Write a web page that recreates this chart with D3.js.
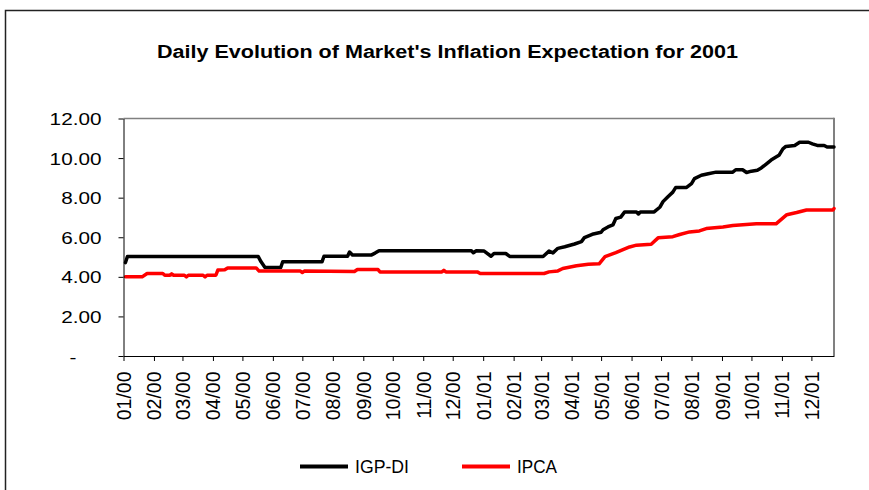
<!DOCTYPE html>
<html><head><meta charset="utf-8">
<script src="https://cdn.jsdelivr.net/npm/d3@7"></script>
<style>
html,body{margin:0;padding:0;background:#fff;}
svg{display:block;font-family:"Liberation Sans",Arial,sans-serif;}
</style></head>
<body><svg id="c" width="869" height="490"></svg>
<script>
const title = "Daily Evolution of Market's Inflation Expectation for 2001";
const seriesNames = ["IGP-DI", "IPCA"];
const yTicks = [0, 2, 4, 6, 8, 10, 12];

const igpDates = ["2000-01-03","2000-01-05","2000-05-17","2000-05-20","2000-05-24","2000-06-09","2000-06-11","2000-07-21","2000-07-23","2000-08-16","2000-08-18","2000-08-21","2000-09-09","2000-09-13","2000-09-17","2000-12-20","2000-12-22","2000-12-25","2001-01-02","2001-01-09","2001-01-12","2001-01-24","2001-01-28","2001-03-03","2001-03-09","2001-03-13","2001-03-18","2001-03-25","2001-04-04","2001-04-11","2001-04-14","2001-04-22","2001-05-01","2001-05-03","2001-05-08","2001-05-13","2001-05-16","2001-05-21","2001-05-25","2001-06-06","2001-06-08","2001-06-10","2001-06-24","2001-06-30","2001-07-03","2001-07-08","2001-07-13","2001-07-16","2001-07-27","2001-08-01","2001-08-04","2001-08-11","2001-08-18","2001-08-26","2001-09-12","2001-09-15","2001-09-22","2001-09-26","2001-10-01","2001-10-07","2001-10-11","2001-10-16","2001-10-21","2001-10-26","2001-10-29","2001-11-02","2001-11-05","2001-11-14","2001-11-19","2001-11-28","2001-12-02","2001-12-07","2001-12-14","2001-12-17","2001-12-24"];
const igpValues = [4.72,5.03,5.03,4.76,4.47,4.47,4.76,4.76,5.04,5.04,5.25,5.10,5.10,5.20,5.32,5.32,5.22,5.32,5.30,5.04,5.18,5.18,5.03,5.03,5.30,5.21,5.44,5.52,5.66,5.78,5.98,6.15,6.25,6.38,6.52,6.62,6.95,7.02,7.28,7.28,7.18,7.28,7.28,7.53,7.80,8.05,8.28,8.52,8.52,8.71,8.96,9.13,9.21,9.29,9.29,9.41,9.41,9.27,9.34,9.38,9.50,9.70,9.90,10.05,10.14,10.47,10.59,10.64,10.80,10.80,10.72,10.64,10.64,10.56,10.56];

const ipcaDates = ["2000-01-03","2000-01-20","2000-01-25","2000-02-10","2000-02-12","2000-02-17","2000-02-19","2000-02-21","2000-03-03","2000-03-05","2000-03-07","2000-03-22","2000-03-24","2000-03-26","2000-04-04","2000-04-06","2000-04-13","2000-04-16","2000-05-15","2000-05-18","2000-06-29","2000-07-01","2000-07-03","2000-08-23","2000-08-26","2000-09-16","2000-09-18","2000-11-20","2000-11-22","2000-11-24","2000-12-26","2000-12-29","2001-03-04","2001-03-09","2001-03-18","2001-03-23","2001-04-06","2001-04-18","2001-04-29","2001-05-05","2001-05-16","2001-05-30","2001-06-06","2001-06-21","2001-06-28","2001-07-13","2001-07-20","2001-07-30","2001-08-09","2001-08-16","2001-09-02","2001-09-12","2001-10-06","2001-10-26","2001-11-06","2001-11-16","2001-11-26","2001-12-23","2001-12-24"];
const ipcaValues = [4.00,4.00,4.17,4.17,4.08,4.08,4.15,4.08,4.08,4.00,4.08,4.08,4.00,4.08,4.08,4.34,4.36,4.45,4.45,4.29,4.29,4.22,4.29,4.27,4.37,4.37,4.25,4.25,4.33,4.25,4.25,4.17,4.17,4.25,4.30,4.42,4.56,4.64,4.66,5.02,5.22,5.51,5.60,5.65,5.97,6.03,6.14,6.27,6.32,6.44,6.52,6.59,6.68,6.68,7.14,7.25,7.38,7.38,7.45];

const colors = ["#000000", "#ff0000"];
const parse = d3.utcParse("%Y-%m-%d");
const series = [
  igpDates.map((d,i)=>({date:parse(d), v:igpValues[i]})),
  ipcaDates.map((d,i)=>({date:parse(d), v:ipcaValues[i]}))
];

const svg = d3.select("#c");
svg.append("rect").attr("width",869).attr("height",490).attr("fill","#fff");
// outer chart frame
svg.append("rect").attr("x",5.5).attr("y",10.5).attr("width",900).attr("height",520)
  .attr("fill","none").attr("stroke","#222").attr("stroke-width",1.5);

const L = 123.5, R = 834, T = 118.5, B = 356;
const x = d3.scaleUtc().domain([parse("2000-01-01"), parse("2001-12-24")]).range([L, R]);
const y = d3.scaleLinear().domain([0, 12]).range([B, T]);

// plot border (top/right gray)
svg.append("line").attr("x1",L).attr("x2",R).attr("y1",T).attr("y2",T).attr("stroke","#808080").attr("stroke-width",1.5);
svg.append("line").attr("x1",R).attr("x2",R).attr("y1",T-0.75).attr("y2",B).attr("stroke","#808080").attr("stroke-width",2);

// lines
const line = d3.line().x(d=>x(d.date)).y(d=>y(d.v)).curve(d3.curveLinear);
series.forEach((s,i)=>{
  svg.append("path").datum(s).attr("d",line).attr("fill","none")
    .attr("stroke",colors[i]).attr("stroke-width",3.5)
    .attr("stroke-linejoin","round").attr("stroke-linecap","round");
});

// y axis
const yAxis = svg.append("g").attr("transform",`translate(${L},0)`)
  .call(d3.axisLeft(y).tickValues(yTicks).tickSize(5).tickSizeOuter(0)
    .tickFormat(v => v===0 ? "-" : d3.format(".2f")(v)));
yAxis.select(".domain").attr("stroke","#000");
yAxis.selectAll(".tick line").attr("stroke","#000");
yAxis.selectAll(".tick text")
  .attr("font-family","'Liberation Sans',Arial,sans-serif").attr("font-size",17).attr("fill","#000")
  .attr("x",0).attr("dy","0.36em")
  .attr("transform", v => v===0 ? "translate(-47,0) scale(1.22,1)" : "translate(-22,0) scale(1.22,1)");

// x axis
const xAxis = svg.append("g").attr("transform",`translate(0,${B})`)
  .call(d3.axisBottom(x).ticks(d3.utcMonth.every(1)).tickSize(5).tickSizeOuter(0)
    .tickFormat(d3.utcFormat("%m/%y")));
xAxis.select(".domain").attr("stroke","#000");
xAxis.selectAll(".tick line").attr("stroke","#000");
xAxis.selectAll(".tick text")
  .attr("font-family","'Liberation Sans',Arial,sans-serif").attr("font-size",19.5).attr("fill","#000")
  .attr("text-anchor","end").attr("transform","rotate(-90)")
  .attr("x",-15.5).attr("y",0).attr("dy","0.36em");

// title
svg.append("text").attr("x",447.5).attr("y",58).attr("text-anchor","middle")
  .attr("font-family","'Liberation Sans',Arial,sans-serif").attr("font-weight","bold").attr("font-size",17.5)
  .attr("textLength",581).attr("lengthAdjust","spacingAndGlyphs").text(title);

// legend
const legX = [300, 462], legTextLen = [54, 40];
seriesNames.forEach((n,i)=>{
  svg.append("line").attr("x1",legX[i]).attr("x2",legX[i]+48).attr("y1",466.5).attr("y2",466.5)
    .attr("stroke",colors[i]).attr("stroke-width",4);
  svg.append("text").attr("x",legX[i]+55).attr("y",473).attr("font-size",19)
    .attr("font-family","'Liberation Sans',Arial,sans-serif")
    .attr("textLength",legTextLen[i]).attr("lengthAdjust","spacingAndGlyphs").text(n);
});
</script></body></html>
